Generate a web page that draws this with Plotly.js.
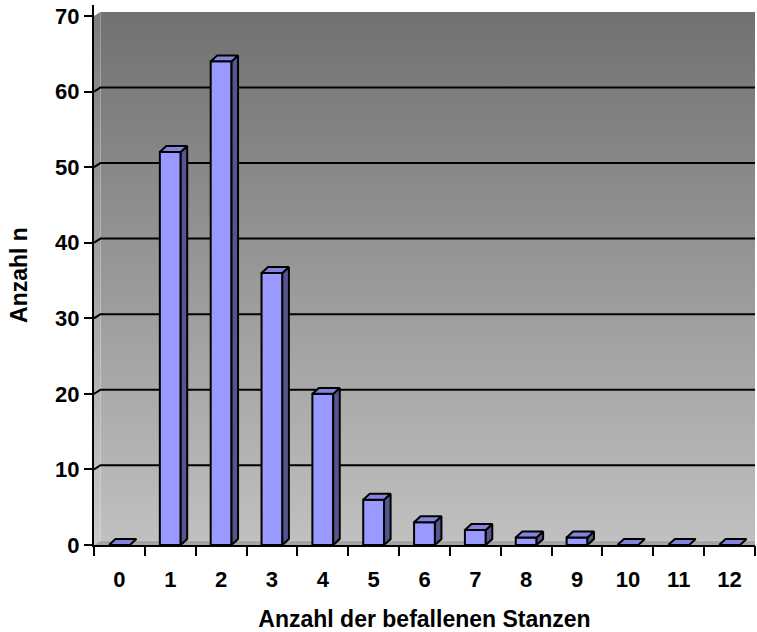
<!DOCTYPE html>
<html>
<head>
<meta charset="utf-8">
<script src="https://cdn.plot.ly/plotly-3.0.1.min.js"></script>
<style>html,body{margin:0;padding:0;background:#fff;}#chart{width:757px;height:632px;}</style>
</head>
<body>
<div id="chart"></div>
<script>
// ---- data ----
const categories = ['0','1','2','3','4','5','6','7','8','9','10','11','12'];
const counts = [0, 52, 64, 36, 20, 6, 3, 2, 1, 1, 0, 0, 0];
const yTickVals = [0, 10, 20, 30, 40, 50, 60, 70];
const xTitle = 'Anzahl der befallenen Stanzen';
const yTitle = 'Anzahl n';

// ---- 3D look parameters (styling) ----
const barW = 0.41;      // front face width (category units)
const bdx = 0.128;      // bar depth, x
const bdy = 0.79;       // bar depth, y
const wdx = 0.128;      // wall offset, x
const wdy = 0.55;       // wall offset, y
const xs = categories.map((c, i) => i);
const xMin = -0.5, xMax = categories.length - 0.5;
const yTop = yTickVals[yTickVals.length - 1];

const FONT = 'Liberation Sans, Arial, Helvetica, sans-serif';

// wall, side wall, floor
const wall = {
  type: 'scatter', mode: 'lines', xaxis: 'x', yaxis: 'y',
  x: [xMin + wdx, xMax + 1, xMax + 1, xMin + wdx, xMin + wdx],
  y: [wdy, wdy, yTop + wdy, yTop + wdy, wdy],
  fill: 'toself', line: {width: 0},
  fillgradient: {type: 'vertical', colorscale: [[0, '#c0c0c0'], [1, '#717171']]},
  hoverinfo: 'skip', showlegend: false
};
const sideWall = {
  type: 'scatter', mode: 'lines', xaxis: 'x', yaxis: 'y',
  x: [xMin, xMin + wdx, xMin + wdx, xMin, xMin],
  y: [0, wdy, yTop + wdy, yTop, 0],
  fill: 'toself', line: {width: 0},
  fillgradient: {type: 'vertical', colorscale: [[0, '#c9c9c9'], [1, '#7d7d7d']]},
  hoverinfo: 'skip', showlegend: false
};
const floor = {
  type: 'scatter', mode: 'lines', xaxis: 'x', yaxis: 'y',
  x: [xMin, xMax + 1, xMax + 1, xMin + wdx, xMin],
  y: [0, 0, wdy, wdy, 0],
  fill: 'toself', fillcolor: '#a4a4a4', line: {width: 0},
  hoverinfo: 'skip', showlegend: false
};
// gridlines on the wall (with diagonal join to axis)
const gx = [], gy = [];
yTickVals.filter(v => v > 0 && v < yTop).forEach(v => {
  gx.push(xMin, xMin + wdx, xMax + 1, null);
  gy.push(v, v + wdy, v + wdy, null);
});
const grid = {
  type: 'scatter', mode: 'lines', xaxis: 'x', yaxis: 'y',
  x: gx, y: gy, line: {color: '#000', width: 2},
  hoverinfo: 'skip', showlegend: false
};

// bars (front faces)
const bars = {
  type: 'bar', xaxis: 'x2', yaxis: 'y2',
  x: xs, y: counts, width: barW,
  marker: {color: '#9999ff', line: {color: '#000', width: 2}},
  showlegend: false, hoverinfo: 'x+y'
};
// side & top faces
const sx = [], sy = [], tx = [], ty = [];
xs.forEach((x, i) => {
  const v = counts[i];
  const x0 = x - barW / 2, x1 = x + barW / 2;
  if (v > 0) {
    sx.push(x1, x1 + bdx, x1 + bdx, x1, x1, null);
    sy.push(0, bdy, v + bdy, v, 0, null);
  }
  tx.push(x0, x0 + bdx, x1 + bdx, x1, x0, null);
  ty.push(v, v + bdy, v + bdy, v, v, null);
});
const sides = {
  type: 'scatter', mode: 'lines', xaxis: 'x2', yaxis: 'y2',
  x: sx, y: sy, fill: 'toself', fillcolor: '#56568f',
  line: {color: '#000', width: 2}, hoverinfo: 'skip', showlegend: false
};
const tops = {
  type: 'scatter', mode: 'lines', xaxis: 'x2', yaxis: 'y2',
  x: tx, y: ty, fill: 'toself', fillcolor: '#8484dc',
  line: {color: '#000', width: 2}, hoverinfo: 'skip', showlegend: false
};

const yRange = [0, 71.46];
const layout = {
  width: 757, height: 632,
  margin: {l: 94, r: 2, t: 5, b: 87},
  paper_bgcolor: '#ffffff', plot_bgcolor: '#ffffff',
  showlegend: false,
  font: {family: FONT, color: '#000'},
  xaxis: {
    range: [xMin, xMax], tickvals: xs, ticktext: categories,
    ticks: 'outside', ticklen: 14, tickcolor: 'rgba(0,0,0,0)',
    tickfont: {family: FONT, size: 22, color: '#000', weight: 'bold'},
    showgrid: false, zeroline: false,
    showline: true, linecolor: '#000', linewidth: 2,
    title: {text: xTitle, font: {family: FONT, size: 23, color: '#000', weight: 'bold'}, standoff: 19},
    fixedrange: true
  },
  xaxis2: {
    range: [xMin, xMax], overlaying: 'x', anchor: 'y2', side: 'bottom',
    tickvals: xs.map(x => x - 0.5).concat([xMax]), showticklabels: false,
    ticks: 'outside', ticklen: 10, tickwidth: 2, tickcolor: '#000',
    showgrid: false, zeroline: false, showline: false, fixedrange: true
  },
  yaxis: {
    range: yRange, tickvals: yTickVals, ticktext: yTickVals.map(String),
    ticks: 'outside', ticklen: 8, tickwidth: 2, tickcolor: '#000',
    tickfont: {family: FONT, size: 22, color: '#000', weight: 'bold'},
    showgrid: false, zeroline: false,
    showline: true, linecolor: '#000', linewidth: 2,
    title: {text: yTitle, font: {family: FONT, size: 23, color: '#000', weight: 'bold'}, standoff: 21},
    fixedrange: true
  },
  yaxis2: {
    range: yRange, overlaying: 'y', anchor: 'x2', visible: false, fixedrange: true
  }
};

Plotly.newPlot('chart', [wall, sideWall, floor, grid, bars, sides, tops], layout,
  {displayModeBar: false, staticPlot: true});
</script>
</body>
</html>
